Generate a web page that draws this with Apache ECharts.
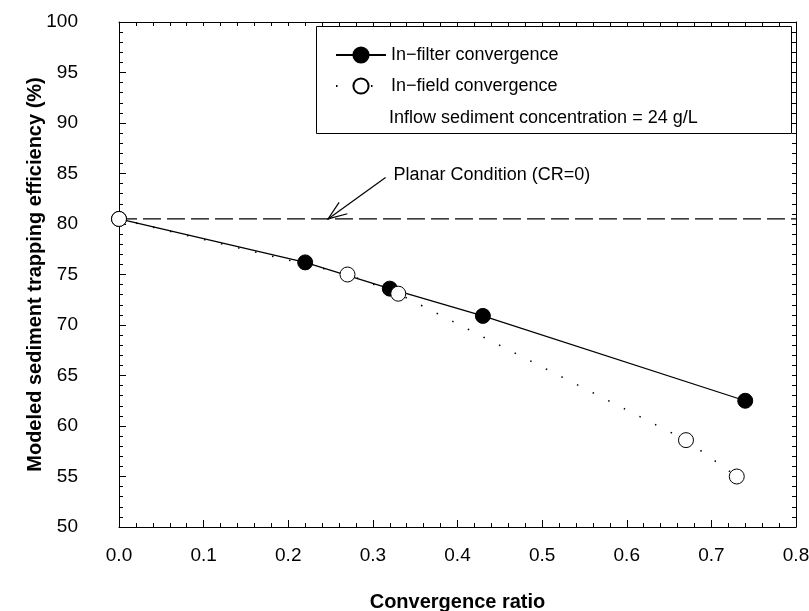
<!DOCTYPE html>
<html>
<head>
<meta charset="utf-8">
<script src="https://cdn.jsdelivr.net/npm/echarts@6/dist/echarts.min.js"></script>
<style>
  html, body { margin: 0; padding: 0; background: #fff; }
  #chart { width: 809px; height: 611px; }
</style>
</head>
<body>
<div id="chart"></div>
<script>
// values
const inFilterX = [0, 0.22, 0.32, 0.43, 0.74]
const inFilterY = [80.5, 76.2, 73.6, 70.9, 62.5]
const inFieldX = [0, 0.27, 0.33, 0.67, 0.73]
const inFieldY = [80.5, 75.0, 73.1, 58.6, 55.0]
const planarLevel = 80.5
const planarNote = 'Planar Condition (CR=0)'
const arrowFrom = [0.315, 84.6]
const arrowTo = [0.247, 80.5]
const xTicks = ['0.0', '0.1', '0.2', '0.3', '0.4', '0.5', '0.6', '0.7', '0.8']

const font = 'Liberation Sans, Arial, sans-serif'
const pairs = (xs, ys) => xs.map((x, i) => [x, ys[i]])

const chart = echarts.init(document.getElementById('chart'), null, { renderer: 'canvas' })

const tickCommon = {
  axisLine: { show: true, onZero: false, lineStyle: { color: '#000', width: 1 } },
  axisTick: { show: true, inside: true, length: 7, lineStyle: { color: '#000' } },
  minorTick: { show: true, splitNumber: 5, length: 4, lineStyle: { color: '#000' } },
  splitLine: { show: false },
  minorSplitLine: { show: false }
}

// arrow line + open head, placed through the axes
function renderArrow(params, api) {
  const p0 = api.coord([api.value(0), api.value(1)])
  const p1 = api.coord([api.value(2), api.value(3)])
  const ang = Math.atan2(p0[1] - p1[1], p0[0] - p1[0])
  const len = 20, spread = 0.36
  const arm = (s) => [p1[0] + len * Math.cos(ang + s), p1[1] + len * Math.sin(ang + s)]
  const a1 = arm(spread), a2 = arm(-spread)
  const style = { stroke: '#000', lineWidth: 1.2, fill: null }
  return {
    type: 'group',
    children: [
      { type: 'line', shape: { x1: p0[0], y1: p0[1], x2: p1[0], y2: p1[1] }, style },
      { type: 'polyline', shape: { points: [a1, p1, a2] }, style }
    ]
  }
}

chart.setOption({
  animation: false,
  backgroundColor: '#fff',
  grid: { left: 119, right: 13, top: 22, bottom: 84, containLabel: false, outerBoundsMode: 'none' },
  xAxis: [{
    type: 'value',
    min: 0, max: 0.8, interval: 0.1,
    position: 'bottom',
    name: 'Convergence ratio',
    nameLocation: 'middle',
    nameGap: 65,
    nameMoveOverlap: false,
    nameTextStyle: { fontFamily: font, fontSize: 20, fontWeight: 'bold', color: '#000' },
    axisLabel: {
      margin: 19, fontFamily: font, fontSize: 19, color: '#000',
      formatter: (v) => xTicks[Math.round(v * 10)]
    },
    ...tickCommon
  }, {
    type: 'value',
    min: 0, max: 0.8, interval: 0.1,
    position: 'top',
    axisLabel: { show: false },
    ...tickCommon,
    axisTick: { show: true, inside: true, length: 4, lineStyle: { color: '#000' } }
  }],
  yAxis: [{
    type: 'value',
    min: 50, max: 100, interval: 5,
    position: 'left',
    name: 'Modeled sediment trapping efficiency (%)',
    nameLocation: 'middle',
    nameGap: 74,
    nameMoveOverlap: false,
    nameTextStyle: { fontFamily: font, fontSize: 20, fontWeight: 'bold', color: '#000' },
    axisLabel: { margin: 41, fontFamily: font, fontSize: 19, color: '#000' },
    ...tickCommon
  }, {
    type: 'value',
    min: 50, max: 100, interval: 5,
    position: 'right',
    axisLabel: { show: false },
    ...tickCommon,
    axisTick: { show: true, inside: true, length: 4, lineStyle: { color: '#000' } }
  }],
  legend: {
    data: ['In\u2212filter convergence', 'In\u2212field convergence'],
    orient: 'vertical',
    left: 330,
    top: 41,
    z: 10,
    itemWidth: 50,
    itemHeight: 19,
    itemGap: 13,
    textStyle: { fontFamily: font, fontSize: 18, color: '#000', padding: [0, 0, 0, 0] }
  },
  graphic: [{
    type: 'rect',
    shape: { x: 316.5, y: 26.5, width: 475, height: 107 },
    style: { fill: '#fff', stroke: '#000', lineWidth: 1 },
    z: 2
  }, {
    type: 'text',
    x: 389, y: 118,
    style: {
      text: 'Inflow sediment concentration = 24 g/L',
      font: '18px ' + font, fill: '#000', verticalAlign: 'middle'
    },
    z: 6
  }],
  series: [{
    name: 'planar',
    type: 'line',
    data: [[0, planarLevel], [0.8, planarLevel]],
    symbol: 'none',
    lineStyle: { color: '#000', width: 1.3, type: [18, 6] },
    silent: true,
    z: 1,
    markPoint: {
      silent: true,
      symbol: 'circle',
      symbolSize: 0,
      data: [{ coord: arrowFrom }],
      label: {
        show: true, position: 'right', distance: 8, offset: [0, -3],
        formatter: planarNote,
        fontFamily: font, fontSize: 18, color: '#000'
      }
    }
  }, {
    name: 'arrow',
    type: 'custom',
    renderItem: renderArrow,
    encode: { x: [0, 2], y: [1, 3] },
    data: [[arrowFrom[0], arrowFrom[1], arrowTo[0], arrowTo[1]]],
    silent: true,
    z: 2
  }, {
    name: 'In\u2212filter convergence',
    type: 'line',
    data: pairs(inFilterX, inFilterY),
    symbol: 'circle',
    symbolSize: 15,
    itemStyle: { color: '#000', borderColor: '#000', borderWidth: 1 },
    lineStyle: { color: '#000', width: 1.3 },
    z: 3
  }, {
    name: 'In\u2212field convergence',
    type: 'line',
    data: pairs(inFieldX, inFieldY),
    symbol: 'circle',
    symbolSize: 15,
    itemStyle: { color: '#fff', borderColor: '#000', borderWidth: 1 },
    lineStyle: { color: '#000', width: 1.5, type: [1.5, 16] },
    z: 4
  }]
})
</script>
</body>
</html>
